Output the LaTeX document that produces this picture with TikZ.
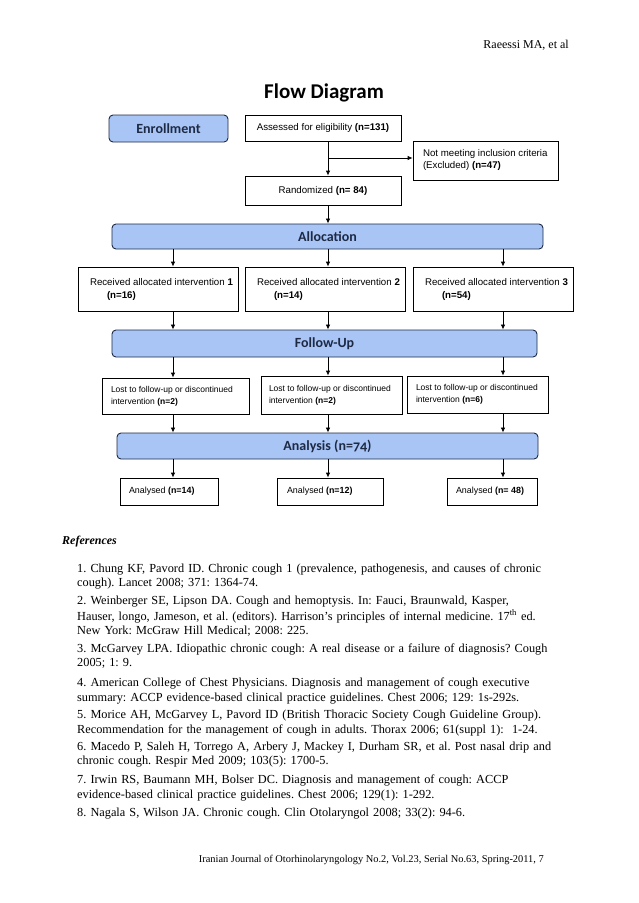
\documentclass[tikz,border=0pt]{standalone}
\usepackage{fontspec}
\setmainfont{Liberation Serif}
\newfontfamily\calfont{Carlito}
\newfontfamily\arialfont{Liberation Sans}
\usetikzlibrary{arrows.meta}
\definecolor{barfill}{HTML}{A8C5F6}
\definecolor{bardraw}{HTML}{1E2A44}
\newcommand{\bx}[3]{\makebox[#1][l]{\hspace*{#2}\begin{tabular}{@{}l@{}}#3\end{tabular}}}
\begin{document}
\begin{tikzpicture}[x=1pt,y=-1pt,
  bar/.style={draw=bardraw, fill=barfill, rounded corners=4pt, line width=0.9pt,
    font=\calfont\bfseries\fontsize{14}{16}\selectfont, text=bardraw, inner sep=0pt},
  box/.style={draw=black, line width=0.8pt, inner sep=0pt,
    font=\arialfont\fontsize{9.7}{11.5}\selectfont},
  cbox/.style={draw=black, line width=0.8pt, align=center, inner sep=0pt,
    font=\arialfont\fontsize{9.7}{11.5}\selectfont},
  arr/.style={-{Latex[length=5pt,width=4.5pt]}, line width=0.8pt},
  refitem/.style={anchor=north west, inner sep=0pt, text width=466pt, align=left,
    font=\fontsize{12.3}{14.7}\selectfont}]
\fill[white] (0,0) rectangle (638,903);
\useasboundingbox (0,0) rectangle (638,903);

% header and title
\node[anchor=base east, inner sep=0pt, font=\fontsize{12}{14}\selectfont] (hdr) at (569,48) {Raeessi MA, et al};
\node[anchor=base, inner sep=0pt, font=\calfont\bfseries\fontsize{21}{24}\selectfont] (title) at (324,98.5) {Flow Diagram};

% columns
\coordinate (c1) at (173,0);
\coordinate (c2) at (328,0);
\coordinate (c3) at (503,0);

% enrollment
\node[bar, minimum width=119pt, minimum height=27pt] (enroll) at (168.5,128.5) {Enrollment};
\node[cbox, minimum width=156pt, minimum height=26pt] (assess) at (323,128) {Assessed for eligibility \textbf{(n=131)}};
\node[box, minimum height=39pt] (excl) at (485.5,160.5)
  {\fontsize{9.7}{12}\selectfont\bx{145pt}{10pt}{Not meeting inclusion criteria\\(Excluded) \textbf{(n=47)}}};
\node[cbox, minimum width=156pt, minimum height=29pt] (rand) at (323,190.5) {Randomized \textbf{(n= 84)}};
\coordinate (jx) at (328,158);
\draw[arr] (assess.south -| c2) -- (rand.north -| c2);
\draw[arr] (jx) -- (excl.west |- jx);

% allocation
\node[bar, minimum width=431pt, minimum height=25pt] (alloc) at (327.5,236.5) {Allocation};
\draw[arr] (rand.south -| c2) -- (alloc.north -| c2);

\node[box, minimum height=44pt] (r1) at (158,289)
  {\fontsize{9.7}{13}\selectfont\bx{160pt}{12pt}{Received allocated intervention \textbf{1}\\\hspace*{17pt}\textbf{(n=16)}}};
\node[box, minimum height=44pt] (r2) at (325,289)
  {\fontsize{9.7}{13}\selectfont\bx{160pt}{12pt}{Received allocated intervention \textbf{2}\\\hspace*{17pt}\textbf{(n=14)}}};
\node[box, minimum height=44pt] (r3) at (493,289)
  {\fontsize{9.7}{13}\selectfont\bx{160pt}{12pt}{Received allocated intervention \textbf{3}\\\hspace*{17pt}\textbf{(n=54)}}};
\foreach \r/\c in {r1/c1, r2/c2, r3/c3}
  \draw[arr] (alloc.south -| \c) -- (\r.north -| \c);

% follow-up
\node[bar, minimum width=425pt, minimum height=27pt] (follow) at (324.5,343.5) {Follow-Up};
\foreach \r/\c in {r1/c1, r2/c2, r3/c3}
  \draw[arr] (\r.south -| \c) -- (follow.north -| \c);

\node[box, minimum height=36pt] (l1) at (175.5,396)
  {\fontsize{8.5}{11.5}\selectfont\bx{147pt}{9pt}{Lost to follow-up or discontinued\\intervention \textbf{(n=2)}}};
\node[box, minimum height=38pt] (l2) at (331.5,395)
  {\fontsize{8.5}{12.5}\selectfont\bx{141pt}{8pt}{Lost to follow-up or discontinued\\intervention \textbf{(n=2)}}};
\node[box, minimum height=37pt] (l3) at (477.5,394.5)
  {\fontsize{8.5}{12}\selectfont\bx{141pt}{9pt}{Lost to follow-up or discontinued\\intervention \textbf{(n=6)}}};
\foreach \r/\c in {l1/c1, l2/c2, l3/c3}
  \draw[arr] (follow.south -| \c) -- (\r.north -| \c);

% analysis
\node[bar, minimum width=421pt, minimum height=26pt] (anal) at (327.5,446)
  {Analysis ({\addfontfeatures{Numbers=OldStyle}n=74})};
\foreach \r/\c in {l1/c1, l2/c2, l3/c3}
  \draw[arr] (\r.south -| \c) -- (anal.north -| \c);

\node[box, minimum height=27pt] (a1) at (169,491.5) {\fontsize{8.9}{11}\selectfont\bx{98pt}{9pt}{Analysed \textbf{(n=14)}}};
\node[box, minimum height=27pt] (a2) at (330,491.5) {\fontsize{8.9}{11}\selectfont\bx{106pt}{10pt}{Analysed \textbf{(n=12)}}};
\node[box, minimum height=27pt] (a3) at (492,491.5) {\fontsize{8.9}{11}\selectfont\bx{90pt}{9pt}{Analysed \textbf{(n= 48)}}};
\foreach \r/\c in {a1/c1, a2/c2, a3/c3}
  \draw[arr] (anal.south -| \c) -- (\r.north -| \c);

% references
\node[anchor=base west, inner sep=0pt, font=\fontsize{12}{14}\selectfont\bfseries\itshape] (refh) at (62,544) {References};

\node[refitem] (ref1) at (77,561.8) {\frenchspacing\strut\makebox[466pt][s]{1. Chung KF, Pavord ID. Chronic cough 1 (prevalence, pathogenesis, and causes of chronic}\\cough). Lancet 2008; 371: 1364-74.};
\node[refitem] (ref2) at (77,593.8) {\frenchspacing\strut\makebox[466pt][s]{2. Weinberger SE, Lipson DA. Cough and hemoptysis. In: Fauci, Braunwald, Kasper,}\\\makebox[466pt][s]{Hauser, longo, Jameson, et al. (editors). Harrison's principles of internal medicine. 17\textsuperscript{th} ed.}\\New York: McGraw Hill Medical; 2008: 225.};
\node[refitem] (ref3) at (77,641.8) {\frenchspacing\strut\makebox[466pt][s]{3. McGarvey LPA. Idiopathic chronic cough: A real disease or a failure of diagnosis? Cough}\\2005; 1: 9.};
\node[refitem] (ref4) at (77,675.8) {\frenchspacing\strut\makebox[466pt][s]{4. American College of Chest Physicians. Diagnosis and management of cough executive}\\summary: ACCP evidence-based clinical practice guidelines. Chest 2006; 129: 1s-292s.};
\node[refitem] (ref5) at (77,707.8) {\frenchspacing\strut\makebox[466pt][s]{5. Morice AH, McGarvey L, Pavord ID (British Thoracic Society Cough Guideline Group).}\\Recommendation for the management of cough in adults. Thorax 2006; 61(suppl 1):\ \ 1-24.};
\node[refitem] (ref6) at (77,739.8) {\frenchspacing\strut\makebox[466pt][s]{6. Macedo P, Saleh H, Torrego A, Arbery J, Mackey I, Durham SR, et al. Post nasal drip and}\\chronic cough. Respir Med 2009; 103(5): 1700-5.};
\node[refitem] (ref7) at (77,772.8) {\frenchspacing\strut\makebox[466pt][s]{7. Irwin RS, Baumann MH, Bolser DC. Diagnosis and management of cough: ACCP}\\evidence-based clinical practice guidelines. Chest 2006; 129(1): 1-292.};
\node[refitem] (ref8) at (77,805.8) {\frenchspacing\strut 8. Nagala S, Wilson JA. Chronic cough. Clin Otolaryngol 2008; 33(2): 94-6.};

% footer
\node[anchor=base east, inner sep=0pt, font=\fontsize{10.4}{12}\selectfont] (foot) at (544,862) {Iranian Journal of Otorhinolaryngology No.2, Vol.23, Serial No.63, Spring-2011, 7};
\end{tikzpicture}
\end{document}
